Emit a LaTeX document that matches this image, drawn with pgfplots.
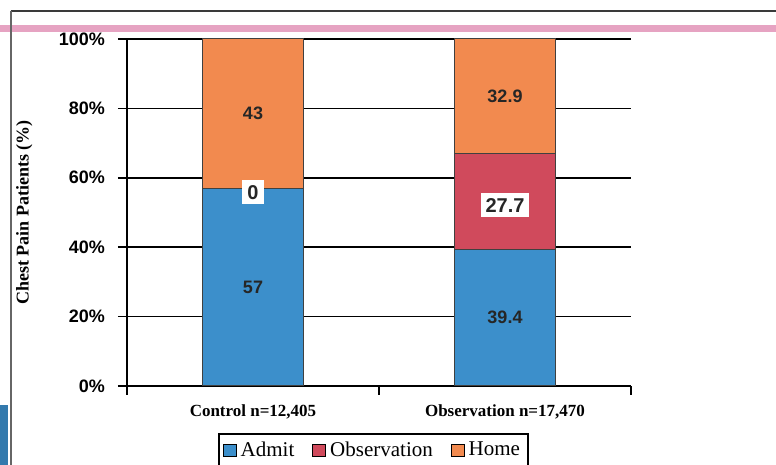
\documentclass[border=0pt]{standalone}
\usepackage{fontspec}
\setmainfont{Liberation Serif}
\setsansfont{Liberation Sans}
\usepackage{pgfplots}
\pgfplotsset{compat=1.18}
\usepackage{pgfplotstable}

\definecolor{admitblue}{HTML}{3C8FCB}
\definecolor{obsred}{HTML}{D04A5C}
\definecolor{homeorange}{HTML}{F28A4F}
\definecolor{rulepink}{HTML}{E6A3C2}
\definecolor{framegray}{HTML}{3A3A3A}

% Disposition of chest pain patients, percent of each group
\pgfplotstableread{
x  admit  obs   home
0  57     0     43
1  39.4   27.7  32.9
}\disposition

\pgfplotsset{
  sqleg/.style={legend image code/.code={%
    \draw[##1, draw=black, line width=0.5pt] (0pt,-3.2pt) rectangle (6.4pt,3.2pt);}},
  % common frame of the bar axis and the label overlay
  chartframe/.style={
    at={(63.5pt,39.5pt)}, anchor=south west,
    scale only axis, width=252pt, height=173.5pt,
    xmin=-0.5, xmax=1.5, ymin=0, ymax=100},
  seglabel/.style={only marks, mark=*, mark size=0pt,
    mark options={draw=none, fill=none}},
}

\begin{document}
\begin{tikzpicture}
\path[use as bounding box] (0,0) rectangle (388pt,232.5pt);
% page rules around the figure
\fill[rulepink] (0,216.5pt) rectangle (388pt,220pt);
\draw[framegray, line width=0.9pt] (5.25pt,227pt) -- (388pt,227pt);
\draw[gray!80!black, line width=1pt] (5.25pt,227pt) -- (5.25pt,0);
\fill[admitblue!85!black] (0,0) rectangle (4pt,30pt);

\begin{axis}[
  chartframe,
  ybar stacked, bar width=0.4,
  axis x line*=bottom, axis y line*=left,
  axis line style={black, line width=0.9pt, -},
  tick align=outside,
  major tick length=4.5pt,
  tick style={black, line width=0.8pt},
  ytick={0,20,40,60,80,100},
  yticklabels={0\%,20\%,40\%,60\%,80\%,100\%},
  yticklabel style={font=\sffamily\bfseries\fontsize{9}{10}\selectfont, xshift=-3pt},
  ymajorgrids, major grid style={black, line width=0.8pt},
  xtick={-0.5,0.5,1.5}, xticklabels={},
  extra x ticks={0,1},
  extra x tick labels={{Control n=12,405},{Observation n=17,470}},
  extra x tick style={major tick length=0pt, grid=none,
    xticklabel style={font=\bfseries\fontsize{8.5}{10}\selectfont, yshift=-6pt}},
  ylabel={Chest Pain Patients (\%)},
  ylabel style={at={(axis description cs:-0.204,0.5)}, anchor=center,
    font=\bfseries\fontsize{9}{10}\selectfont},
  legend columns=3,
  legend style={at={(0.489,-0.1354)}, anchor=north, draw=black, line width=0.8pt,
    font=\fontsize{10.5}{12}\selectfont, inner sep=2pt,
    /tikz/every even column/.append style={column sep=7pt}},
]
\addplot[fill=admitblue, draw=black!75, line width=0.5pt, sqleg]
  table[x=x, y=admit] {\disposition};
\addplot[fill=obsred, draw=black!75, line width=0.5pt, sqleg]
  table[x=x, y=obs] {\disposition};
\addplot[fill=homeorange, draw=black!75, line width=0.5pt, sqleg]
  table[x=x, y=home] {\disposition};
\legend{Admit, Observation, Home}
\end{axis}

% segment values, each set in the middle of its segment
\begin{axis}[
  chartframe, hide axis, clip=false,
  point meta=explicit,
  nodes near coords={\pgfmathprintnumber[assume math mode=true]{\pgfplotspointmeta}},
  every node near coord/.style={anchor=center, text=black!85,
    font=\sffamily\bfseries\fontsize{9}{10}\selectfont},
]
\addplot[seglabel]
  table[x=x, y expr={0.5*\thisrow{admit}}, meta=admit] {\disposition};
\addplot[seglabel]
  table[x=x, y expr={\thisrow{admit}+\thisrow{obs}+0.5*\thisrow{home}}, meta=home] {\disposition};
\addplot[seglabel,
  every node near coord/.append style={fill=white, inner sep=2.5pt, yshift=-2pt,
    font=\sffamily\bfseries\fontsize{10}{11}\selectfont}]
  table[x=x, y expr={\thisrow{admit}+0.5*\thisrow{obs}}, meta=obs] {\disposition};
\end{axis}
\end{tikzpicture}
\end{document}
